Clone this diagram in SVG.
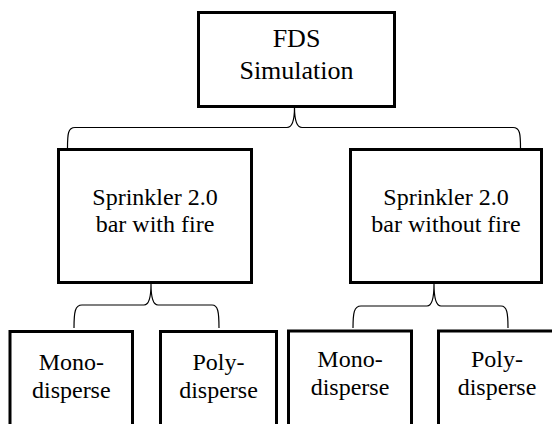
<svg xmlns="http://www.w3.org/2000/svg" width="552" height="424" viewBox="0 0 552 424">
<style>
text{font-family:"Liberation Serif","DejaVu Serif",serif;font-size:24px;fill:#000;text-anchor:middle}
.box{fill:#fff;stroke:#000;stroke-width:3}
.br{fill:none;stroke:#000;stroke-width:1.2}
.big{font-size:26px}
</style>
<rect width="552" height="424" fill="#fff"/>
<g id="connectors">
<path class="br" d="M67.5,148 C67.5,134 68,127.5 75,127.5 L287,127.5 C292,127.5 294.5,120 294.5,107 C294.5,120 297,127.5 302,127.5 L513,127.5 C520,127.5 520.5,134 520.5,148"/>
<path class="br" d="M74,328 C74,312 75,305 82,305 L144,305 C149,305 151,298 151,284 C151,298 153,305 158,305 L212,305 C218,305 219,312 219,328"/>
<path class="br" d="M353,328 C353,313 354,306 361,306 L427,306 C432,306 434,299 434,284 C434,299 436,306 441,306 L501,306 C507,306 508,313 508,328"/>
</g>
<g id="fds">
<rect class="box" x="198.5" y="12.5" width="196" height="94"/>
<text class="big" x="296.5" y="47">FDS</text>
<text class="big" x="296.5" y="79">Simulation</text>
</g>
<g id="withfire">
<rect class="box" x="58.5" y="149.5" width="193" height="133"/>
<text x="155" y="205">Sprinkler 2.0</text>
<text x="155" y="232">bar with fire</text>
</g>
<g id="withoutfire">
<rect class="box" x="350.5" y="149.5" width="191" height="133"/>
<text x="446" y="205">Sprinkler 2.0</text>
<text x="446" y="232">bar without fire</text>
</g>
<g id="mono1">
<rect class="box" x="10" y="331.5" width="122.5" height="110"/>
<text x="71.3" y="370">Mono-</text>
<text x="71.3" y="398">disperse</text>
</g>
<g id="poly1">
<rect class="box" x="160.5" y="331.5" width="116" height="110"/>
<text x="218.5" y="370">Poly-</text>
<text x="218.5" y="398">disperse</text>
</g>
<g id="mono2">
<rect class="box" x="288.5" y="331" width="123" height="110"/>
<text x="350" y="367">Mono-</text>
<text x="350" y="395">disperse</text>
</g>
<g id="poly2">
<rect class="box" x="438.5" y="331" width="118" height="110"/>
<text x="497" y="367">Poly-</text>
<text x="497" y="395">disperse</text>
</g>
</svg>
